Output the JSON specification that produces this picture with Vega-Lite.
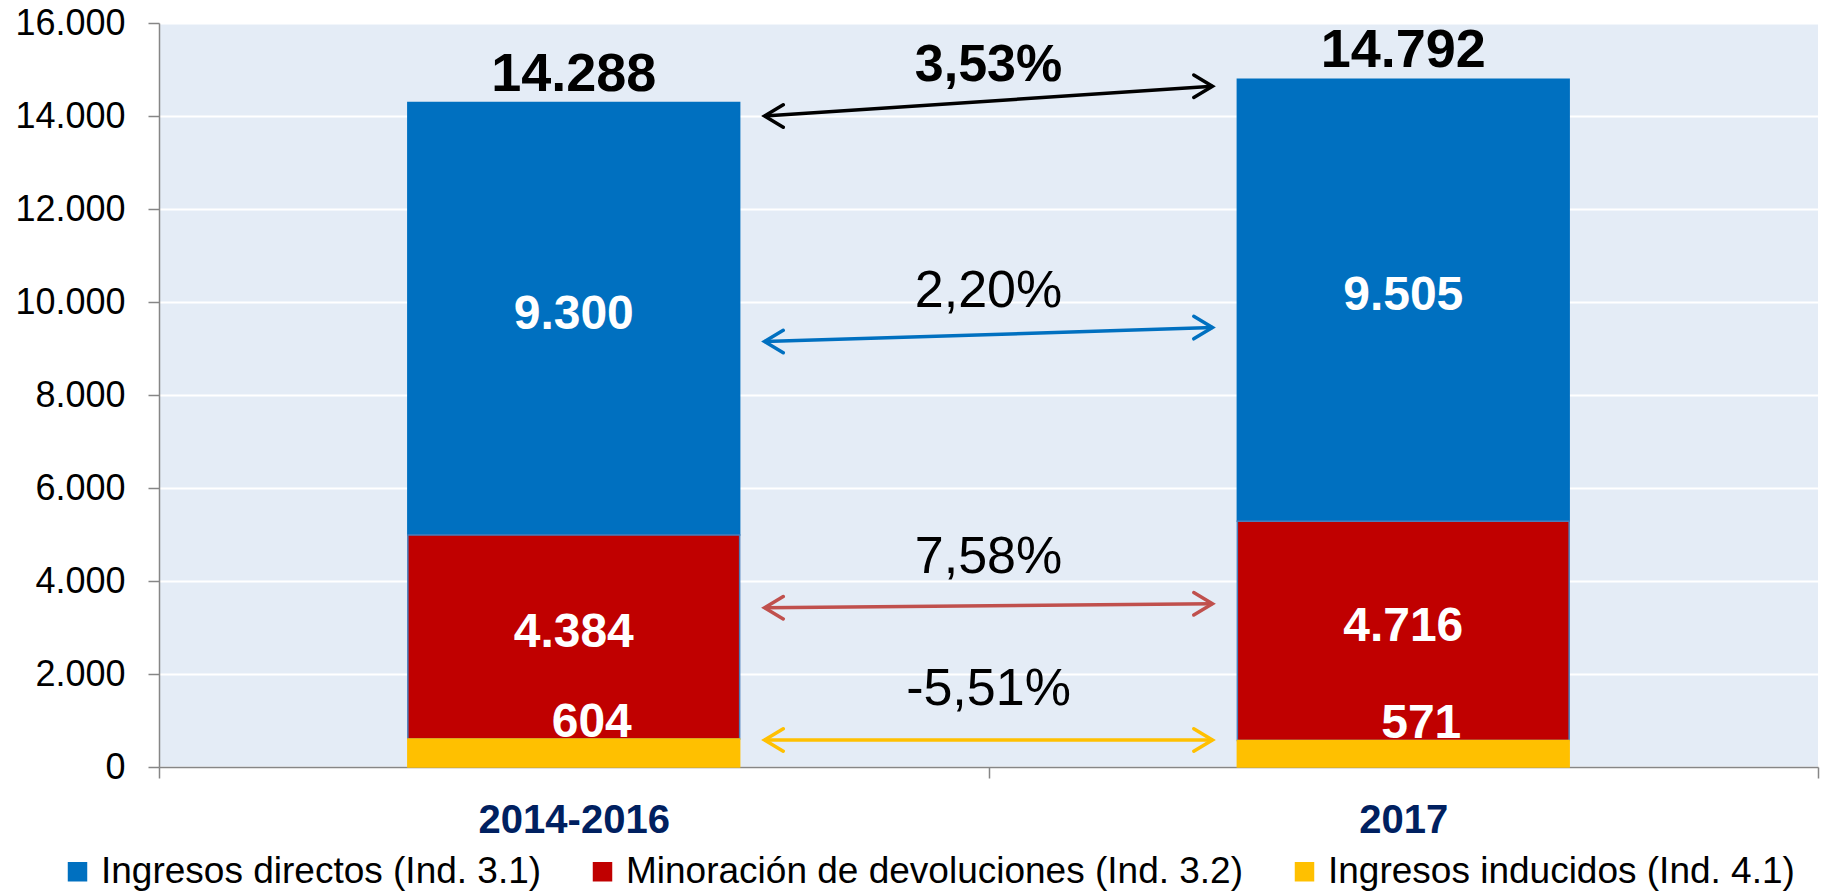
{
  "$schema": "https://vega.github.io/schema/vega-lite/v6.json",
  "width": 1659,
  "height": 744,
  "autosize": {"type": "none"},
  "padding": {"left": 159, "top": 23, "right": 3, "bottom": 126},
  "background": "#ffffff",
  "config": {
    "locale": {"number": {"decimal": ",", "thousands": ".", "grouping": [3], "currency": ["", " €"], "minus": "-"}},
    "view": {"fill": "#e4ecf6", "stroke": null},
    "font": "Liberation Sans",
    "text": {"font": "Liberation Sans"}
  },
  "datasets": {
    "barras": [
      {"periodo": "2014-2016", "serie": "Ingresos directos (Ind. 3.1)", "orden": 3, "valor": 9300},
      {"periodo": "2014-2016", "serie": "Minoración de devoluciones (Ind. 3.2)", "orden": 2, "valor": 4384},
      {"periodo": "2014-2016", "serie": "Ingresos inducidos (Ind. 4.1)", "orden": 1, "valor": 604},
      {"periodo": "2017", "serie": "Ingresos directos (Ind. 3.1)", "orden": 3, "valor": 9505},
      {"periodo": "2017", "serie": "Minoración de devoluciones (Ind. 3.2)", "orden": 2, "valor": 4716},
      {"periodo": "2017", "serie": "Ingresos inducidos (Ind. 4.1)", "orden": 1, "valor": 571}
    ],
    "flechas": [
      {"desde": "2014-2016", "hasta": "2017", "serie": "Total", "inicio": 14000, "fin": 14640, "variacion": 0.0353},
      {"desde": "2014-2016", "hasta": "2017", "serie": "Ingresos directos", "inicio": 9150, "fin": 9450, "variacion": 0.022},
      {"desde": "2014-2016", "hasta": "2017", "serie": "Minoración de devoluciones", "inicio": 3425, "fin": 3510, "variacion": 0.0758},
      {"desde": "2014-2016", "hasta": "2017", "serie": "Ingresos inducidos", "inicio": 581, "fin": 581, "variacion": -0.0551}
    ]
  },
  "layer": [
    {
      "data": {"name": "barras"},
      "mark": {"type": "bar", "width": {"band": 0.4}, "strokeWidth": 1.5},
      "encoding": {
        "x": {
          "field": "periodo", "type": "nominal", "sort": ["2014-2016", "2017"],
          "scale": {"paddingInner": 0, "paddingOuter": 0},
          "axis": {
            "title": null, "labelAngle": 0, "labelFontSize": 40, "labelFontWeight": "bold",
            "labelColor": "#002060", "labelFont": "Liberation Sans", "tickBand": "extent",
            "tickSize": 11, "tickWidth": 1.5, "tickColor": "#868686", "domainColor": "#868686",
            "domainWidth": 1.5, "labelPadding": 22, "grid": false, "labelLimit": 1000
          }
        },
        "y": {
          "field": "valor", "type": "quantitative", "stack": "zero",
          "scale": {"domain": [0, 16000], "nice": false},
          "axis": {
            "title": null, "values": [0, 2000, 4000, 6000, 8000, 10000, 12000, 14000, 16000],
            "format": ",d", "labelFontSize": 36, "labelColor": "#000000", "labelFont": "Liberation Sans",
            "tickSize": 11, "tickWidth": 1.5, "tickColor": "#868686", "domainColor": "#868686",
            "domainWidth": 1.5, "labelPadding": 23, "grid": true, "gridColor": "#ffffff", "gridWidth": 2
          }
        },
        "fill": {
          "field": "serie", "type": "nominal",
          "scale": {
            "domain": ["Ingresos directos (Ind. 3.1)", "Minoración de devoluciones (Ind. 3.2)", "Ingresos inducidos (Ind. 4.1)"],
            "range": ["#0070C0", "#C00000", "#FFC000"]
          },
          "legend": {
            "title": null, "orient": "none", "legendX": -100, "legendY": 830, "direction": "horizontal",
            "labelFontSize": 37, "labelFont": "Liberation Sans", "labelColor": "#000000", "labelOffset": 5,
            "symbolType": "square", "symbolSize": 380, "symbolStrokeWidth": 0, "columnPadding": 42,
            "padding": 0, "labelLimit": 1000
          }
        },
        "stroke": {
          "field": "serie", "type": "nominal",
          "scale": {
            "domain": ["Ingresos directos (Ind. 3.1)", "Minoración de devoluciones (Ind. 3.2)", "Ingresos inducidos (Ind. 4.1)"],
            "range": ["#0070C0", "#4A7EBB", "#FFC000"]
          },
          "legend": null
        },
        "order": {"field": "orden", "type": "quantitative"}
      }
    },
    {
      "data": {"name": "barras"},
      "mark": {"type": "text", "color": "#ffffff", "fontWeight": "bold", "fontSize": 48, "baseline": "middle", "dy": -4},
      "encoding": {
        "x": {"field": "periodo", "type": "nominal"},
        "y": {"field": "valor", "type": "quantitative", "stack": "zero", "bandPosition": 0.5},
        "order": {"field": "orden", "type": "quantitative"},
        "text": {"condition": {"test": "datum.orden === 1", "value": ""}, "field": "valor", "type": "quantitative", "format": ",d"}
      }
    },
    {
      "data": {"name": "barras"},
      "transform": [{"filter": "datum.orden === 1"}],
      "mark": {"type": "text", "color": "#ffffff", "fontWeight": "bold", "fontSize": 48, "baseline": "alphabetic", "dx": 18, "dy": -2},
      "encoding": {
        "x": {"field": "periodo", "type": "nominal"},
        "y": {"field": "valor", "type": "quantitative", "stack": null},
        "text": {"field": "valor", "type": "quantitative", "format": ",d"}
      }
    },
    {
      "data": {"name": "barras"},
      "mark": {"type": "text", "color": "#000000", "fontWeight": "bold", "fontSize": 54, "baseline": "alphabetic", "dy": -12},
      "encoding": {
        "x": {"field": "periodo", "type": "nominal"},
        "y": {"aggregate": "sum", "field": "valor", "type": "quantitative", "stack": null},
        "text": {"aggregate": "sum", "field": "valor", "type": "quantitative", "format": ",d"}
      }
    },
    {
      "data": {"name": "flechas"},
      "mark": {"type": "rule", "strokeWidth": 3.5},
      "encoding": {
        "x": {"field": "desde", "type": "nominal", "bandPosition": 0.73},
        "x2": {"field": "hasta", "bandPosition": 0.27},
        "y": {"field": "inicio", "type": "quantitative"},
        "y2": {"field": "fin"},
        "color": {
          "field": "serie", "type": "nominal",
          "scale": {"domain": ["Total", "Ingresos directos", "Minoración de devoluciones", "Ingresos inducidos"], "range": ["#000000", "#0070C0", "#C0504D", "#FFC000"]},
          "legend": null
        }
      }
    },
    {
      "data": {"name": "flechas"},
      "mark": {"type": "point", "shape": "M1,-0.6L0,0L1,0.6", "filled": false, "size": 1400, "strokeWidth": 3.5, "strokeCap": "round", "opacity": 1},
      "encoding": {
        "x": {"field": "desde", "type": "nominal", "bandPosition": 0.73},
        "y": {"field": "inicio", "type": "quantitative"},
        "color": {"field": "serie", "type": "nominal", "legend": null}
      }
    },
    {
      "data": {"name": "flechas"},
      "mark": {"type": "point", "shape": "M-1,-0.6L0,0L-1,0.6", "filled": false, "size": 1400, "strokeWidth": 3.5, "strokeCap": "round", "opacity": 1},
      "encoding": {
        "x": {"field": "hasta", "type": "nominal", "bandPosition": 0.27},
        "y": {"field": "fin", "type": "quantitative"},
        "color": {"field": "serie", "type": "nominal", "legend": null}
      }
    },
    {
      "data": {"name": "flechas"},
      "transform": [{"filter": "datum.serie === 'Total'"}],
      "mark": {"type": "text", "color": "#000000", "fontWeight": "bold", "fontSize": 52, "baseline": "middle", "dy": -51},
      "encoding": {
        "x": {"field": "desde", "type": "nominal", "bandPosition": 1},
        "y": {"field": "inicio", "type": "quantitative"},
        "text": {"field": "variacion", "type": "quantitative", "format": ".2%"}
      }
    },
    {
      "data": {"name": "flechas"},
      "transform": [{"filter": "datum.serie !== 'Total'"}],
      "mark": {"type": "text", "color": "#000000", "fontWeight": "normal", "fontSize": 52, "baseline": "middle", "dy": -51},
      "encoding": {
        "x": {"field": "desde", "type": "nominal", "bandPosition": 1},
        "y": {"field": "inicio", "type": "quantitative"},
        "text": {"field": "variacion", "type": "quantitative", "format": ".2%"}
      }
    }
  ]
}
